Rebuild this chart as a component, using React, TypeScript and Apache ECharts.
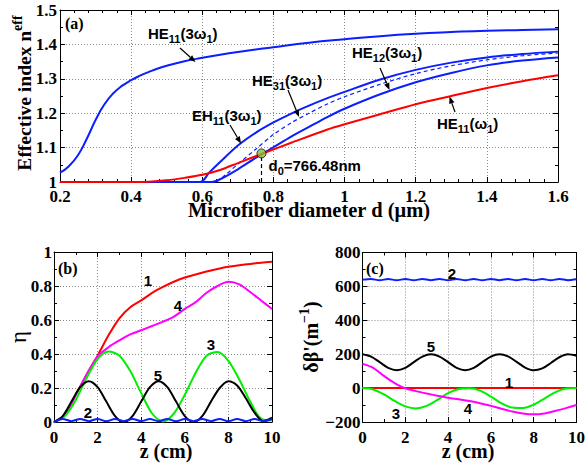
import React, { useEffect, useRef } from "react";
import * as echarts from "echarts";

// ---------------- Panel (a): effective index vs microfiber diameter ----------------
const dHE11_3w = [0.2, 0.225, 0.25, 0.275, 0.3, 0.325, 0.35, 0.375, 0.4, 0.425, 0.45, 0.475, 0.5, 0.55, 0.6, 0.65, 0.7, 0.75, 0.8, 0.9, 1.0, 1.1, 1.2, 1.3, 1.4, 1.5, 1.6];
const nHE11_3w = [1.027, 1.046, 1.077, 1.125, 1.18, 1.226, 1.258, 1.28, 1.296, 1.309, 1.32, 1.33, 1.338, 1.351, 1.361, 1.37, 1.378, 1.385, 1.392, 1.405, 1.415, 1.424, 1.431, 1.436, 1.44, 1.442, 1.444];

const dEH11_3w = [0.2, 0.594, 0.62, 0.65, 0.7, 0.75, 0.8, 0.85, 0.9, 0.95, 1.0, 1.1, 1.2, 1.3, 1.4, 1.5, 1.6];
const nEH11_3w = [1, 1, 1.028, 1.058, 1.106, 1.143, 1.173, 1.199, 1.222, 1.243, 1.262, 1.298, 1.326, 1.347, 1.362, 1.372, 1.379];

const dHE31_3w = [0.2, 0.626, 0.65, 0.7, 0.75, 0.8, 0.85, 0.9, 0.95, 1.0, 1.1, 1.2, 1.3, 1.4, 1.5, 1.6];
const nHE31_3w = [1, 1, 1.008, 1.037, 1.07, 1.101, 1.132, 1.16, 1.188, 1.213, 1.255, 1.29, 1.317, 1.339, 1.353, 1.362];

const dHE12_3w = [0.64, 0.67, 0.7, 0.75, 0.8, 0.85, 0.9, 0.95, 1.0, 1.1, 1.2, 1.3, 1.4, 1.5, 1.6];
const nHE12_3w = [1, 1.025, 1.052, 1.095, 1.138, 1.172, 1.2, 1.226, 1.248, 1.284, 1.315, 1.338, 1.355, 1.367, 1.375];

const dHE11_w = [0.2, 0.4, 0.45, 0.5, 0.55, 0.6, 0.65, 0.7, 0.77, 0.85, 0.95, 1.0, 1.1, 1.2, 1.3, 1.4, 1.5, 1.6];
const nHE11_w = [1, 1, 1.001, 1.005, 1.012, 1.021, 1.035, 1.055, 1.083, 1.114, 1.152, 1.168, 1.197, 1.226, 1.25, 1.273, 1.293, 1.31];

const d0 = 0.76648;
const n0 = 1.083;

// ---------------- Panel (b): conversion efficiency eta vs z ----------------
const zHalf = [0, 0.5, 1, 1.5, 2, 2.5, 3, 3.5, 4, 4.5, 5, 5.5, 6, 6.5, 7, 7.5, 8, 8.5, 9, 9.5, 10];
const zFine = [0, 0.4, 0.8, 1.2, 1.6, 2, 2.4, 2.8, 3.2, 3.6, 4, 4.4, 4.8, 5.2, 5.6, 6, 6.4, 6.8, 7.2, 7.6, 8, 8.4, 8.8, 9.2, 9.6, 10];

const eta1 = [0, 0.04, 0.16, 0.28, 0.39, 0.51, 0.61, 0.675, 0.715, 0.76, 0.795, 0.825, 0.85, 0.868, 0.885, 0.9, 0.913, 0.922, 0.93, 0.937, 0.943];
const eta4 = [0, 0.04, 0.16, 0.28, 0.385, 0.44, 0.48, 0.515, 0.54, 0.565, 0.59, 0.62, 0.665, 0.705, 0.76, 0.8, 0.825, 0.81, 0.765, 0.715, 0.665];
const eta3 = [0, 0.035, 0.13, 0.26, 0.37, 0.415, 0.39, 0.3, 0.17, 0.05, 0.003, 0.05, 0.16, 0.29, 0.39, 0.412, 0.36, 0.25, 0.12, 0.02, 0.01];
const eta5 = [0, 0.035, 0.12, 0.205, 0.24, 0.205, 0.12, 0.035, 0, 0.035, 0.12, 0.205, 0.24, 0.205, 0.12, 0.035, 0, 0.035, 0.12, 0.2, 0.24, 0.215, 0.14, 0.055, 0.005, 0.025];
const eta2 = [0, 0.018, 0.005, 0.018, 0.005, 0.018, 0.004, 0.018, 0.005, 0.018, 0.005, 0.017, 0.005, 0.018, 0.004, 0.018, 0.005, 0.018, 0.005, 0.018, 0.004, 0.018, 0.005, 0.017, 0.005, 0.018];

// ---------------- Panel (c): phase mismatch delta-beta' vs z ----------------
const db1 = [0, 0];
const zEnds = [0, 10];
const db3 = [0, -8, -37, -76, -108, -120, -105, -70, -30, -5, -1, -15, -50, -90, -115, -118, -98, -62, -25, -3, 0];
const db4 = [143, 120, 72, 30, -2, -18, -32, -45, -57, -66, -76, -89, -105, -122, -138, -150, -155, -150, -135, -118, -100];
const db5 = [200, 186, 153, 119, 105, 119, 153, 186, 200, 186, 153, 119, 105, 119, 153, 186, 200, 187, 155, 121, 105, 116, 148, 182, 199, 190];
const db2 = [640, 644, 636, 644, 636, 644, 636, 644, 637, 644, 636, 644, 636, 644, 636, 644, 637, 644, 636, 644, 636, 644, 636, 644, 637, 642];

const SERIF = "Liberation Serif";
const SANS = "Liberation Sans";

const pairs = (xs: number[], ys: number[]) => xs.map((x, i) => [x, ys[i]]);

const tickRich = { t: { fontFamily: SERIF, fontWeight: "bold", fontSize: 17, color: "#000", lineHeight: 17 } };

function mkX(gridIndex: number, min: number, max: number, interval: number, minorSplit: number, main: boolean, fmt?: any, margin = 5) {
  return {
    type: "value", gridIndex, min, max, interval, position: main ? "bottom" : "top",
    axisLine: { show: true, onZero: false, lineStyle: { color: "#000", width: 1 } },
    axisTick: { show: true, inside: true, length: 5, lineStyle: { color: "#000" } },
    minorTick: { show: true, splitNumber: minorSplit, length: 3, lineStyle: { color: "#000" } },
    axisLabel: main
      ? { show: true, fontFamily: SERIF, fontWeight: "bold", fontSize: 17, color: "#000", rich: tickRich, formatter: (v: number) => "{t|" + fmt(v) + "}", margin, showMinLabel: true, showMaxLabel: true }
      : { show: false },
    splitLine: main ? { show: true, lineStyle: { color: "#8a8a8a", type: [1, 2], width: 1 } } : { show: false },
  };
}
function mkY(gridIndex: number, min: number, max: number, interval: number, minorSplit: number, main: boolean, fmt?: any, margin = 3) {
  return {
    type: "value", gridIndex, min, max, interval, position: main ? "left" : "right",
    axisLine: { show: true, onZero: false, lineStyle: { color: "#000", width: 1 } },
    axisTick: { show: true, inside: true, length: 5, lineStyle: { color: "#000" } },
    minorTick: { show: true, splitNumber: minorSplit, length: 3, lineStyle: { color: "#000" } },
    axisLabel: main
      ? { show: true, fontFamily: SERIF, fontWeight: "bold", fontSize: 17, color: "#000", rich: tickRich, formatter: (v: number) => "{t|" + fmt(v) + "}", margin, showMinLabel: true, showMaxLabel: true }
      : { show: false },
    splitLine: main ? { show: true, lineStyle: { color: "#8a8a8a", type: [1, 2], width: 1 } } : { show: false },
  };
}

const fmt1 = (v: number) => String(Math.round(v * 10) / 10);
const fmtInt = (v: number) => (v < 0 ? "\u2212" + String(-v) : String(v));

function arrow(x1: number, y1: number, x2: number, y2: number) {
  const ang = Math.atan2(y2 - y1, x2 - x1);
  const L = 7, W = 2.8;
  const bx = x2 - L * Math.cos(ang), by = y2 - L * Math.sin(ang);
  const px = -Math.sin(ang) * W, py = Math.cos(ang) * W;
  return [
    { type: "line", shape: { x1, y1, x2: bx, y2: by }, style: { stroke: "#000", lineWidth: 1.2 }, z: 100 },
    { type: "polygon", shape: { points: [[x2, y2], [bx + px, by + py], [bx - px, by - py]] }, style: { fill: "#000" }, z: 100 },
  ];
}

const richMode = {
  m: { fontFamily: SANS, fontWeight: "bold", fontSize: 15, lineHeight: 22, fill: "#000" },
  s: { fontFamily: SANS, fontWeight: "bold", fontSize: 11, lineHeight: 12, verticalAlign: "bottom", fill: "#000" },
};
function modeText(x: number, y: number, text: string) {
  return { type: "text", x, y, z: 100, style: { text, rich: richMode, align: "left", verticalAlign: "middle" } };
}
function numText(x: number, y: number, text: string) {
  return { type: "text", x, y, z: 100, style: { text, fontFamily: SANS, fontWeight: "bold", fontSize: 15, fill: "#000", align: "center", verticalAlign: "middle" } };
}
function plainText(x: number, y: number, text: string, size: number, align = "left", bold = true) {
  return { type: "text", x, y, z: 100, style: { text, fontFamily: SERIF, fontWeight: bold ? "bold" : "normal", fontSize: size, lineHeight: Math.round(size * 0.8), fill: "#000", align, verticalAlign: "middle" } };
}

function lineSeries(name: string, xi: number, data: number[][], color: string, width = 2, type: any = "solid", smooth = 0.3) {
  return {
    name, type: "line", xAxisIndex: xi, yAxisIndex: xi, data, smooth, showSymbol: false, symbol: "none",
    lineStyle: { color, width, type }, itemStyle: { color }, clip: true, silent: true,
  };
}

export default function App() {
  const ref = useRef<HTMLDivElement>(null);
  useEffect(() => {
    document.body.style.margin = "0";
    const chart = echarts.init(ref.current!, null, { renderer: "svg" });
    const option: any = {
      animation: false,
      backgroundColor: "#fff",
      textStyle: { fontFamily: SERIF },
      grid: [
        { left: 60, top: 10, width: 498, height: 172 },
        { left: 54, top: 252, width: 218, height: 170 },
        { left: 362.5, top: 252.5, width: 218.5, height: 169.5 },
      ],
      xAxis: [
        mkX(0, 0.2, 1.6, 0.2, 5, true, fmt1, 6),
        mkX(0, 0.2, 1.6, 0.2, 5, false),
        mkX(1, 0, 10, 2, 2, true, fmtInt, 7),
        mkX(1, 0, 10, 2, 2, false),
        mkX(2, 0, 10, 2, 2, true, fmtInt, 7),
        mkX(2, 0, 10, 2, 2, false),
      ],
      yAxis: [
        mkY(0, 1, 1.5, 0.1, 2, true, fmt1, 3),
        mkY(0, 1, 1.5, 0.1, 2, false),
        mkY(1, 0, 1, 0.2, 2, true, fmt1, 2),
        mkY(1, 0, 1, 0.2, 2, false),
        mkY(2, -200, 800, 200, 2, true, fmtInt, 2),
        mkY(2, -200, 800, 200, 2, false),
      ],
      series: [
        // panel a (axes 0)
        lineSeries("HE11(3w1)", 0, pairs(dHE11_3w, nHE11_3w), "#0a1eff", 2, "solid", 0.5),
        lineSeries("EH11(3w1)", 0, pairs(dEH11_3w, nEH11_3w), "#0a1eff"),
        lineSeries("HE31(3w1)", 0, pairs(dHE31_3w, nHE31_3w), "#0a1eff"),
        lineSeries("HE12(3w1)", 0, pairs(dHE12_3w, nHE12_3w), "#0a1eff", 1.2, [4, 3]),
        lineSeries("HE11(w1)", 0, pairs(dHE11_w, nHE11_w), "#ff0000"),
        lineSeries("d0", 0, [[d0, 1], [d0, n0]], "#000", 1.2, [4, 3]),
        {
          name: "pm", type: "scatter", xAxisIndex: 0, yAxisIndex: 0, data: [[d0, n0]], symbol: "circle", symbolSize: 9,
          itemStyle: { color: "#8dbb3c", borderColor: "#000", borderWidth: 1 }, z: 10, silent: true,
        },
        // panel b (axes 2)
        lineSeries("eta1", 2, pairs(zHalf, eta1), "#ff0000"),
        lineSeries("eta4", 2, pairs(zHalf, eta4), "#ff00ff"),
        lineSeries("eta3", 2, pairs(zHalf, eta3), "#00ee00"),
        lineSeries("eta5", 2, pairs(zFine, eta5), "#000000"),
        lineSeries("eta2", 2, pairs(zFine, eta2), "#0a1eff"),
        // panel c (axes 4)
        lineSeries("db1", 4, pairs(zEnds, db1), "#ff0000"),
        lineSeries("db3", 4, pairs(zHalf, db3), "#00ee00"),
        lineSeries("db4", 4, pairs(zHalf, db4), "#ff00ff"),
        lineSeries("db5", 4, pairs(zFine, db5), "#000000"),
        lineSeries("db2", 4, pairs(zFine, db2), "#0a1eff"),
      ],
      graphic: [
        // panel a texts
        plainText(65, 23, "(a)", 16),
        modeText(148, 33, "{m|HE}{s|11}{m|(3\u03c9}{s|1}{m|)}"),
        ...arrow(180, 48, 195.5, 62),
        modeText(252, 80, "{m|HE}{s|31}{m|(3\u03c9}{s|1}{m|)}"),
        ...arrow(288, 90, 299, 117),
        modeText(192, 115, "{m|EH}{s|11}{m|(3\u03c9}{s|1}{m|)}"),
        ...arrow(230, 125, 241, 143.5),
        modeText(352, 52.5, "{m|HE}{s|12}{m|(3\u03c9}{s|1}{m|)}"),
        ...arrow(380, 68, 389.5, 90),
        modeText(437, 123, "{m|HE}{s|11}{m|(\u03c9}{s|1}{m|)}"),
        ...arrow(455, 112, 449.5, 96.5),
        modeText(268.5, 165, "{m|d}{s|0}{m|=766.48nm}"),
        {
          type: "text", x: 24, y: 93, rotation: Math.PI / 2, z: 100,
          style: {
            text: "{m|Effective index n}{p|eff}", align: "center", verticalAlign: "middle",
            rich: {
              m: { fontFamily: SERIF, fontWeight: "bold", fontSize: 19.5, lineHeight: 28, fill: "#000" },
              p: { fontFamily: SERIF, fontWeight: "bold", fontSize: 14, lineHeight: 14, verticalAlign: "top", fill: "#000" },
            },
          },
        },
        plainText(309, 210, "Microfiber diameter d (\u03bcm)", 20.5, "center"),
        // panel b texts
        plainText(58, 268, "(b)", 16),
        numText(148, 280, "1"),
        numText(178, 305, "4"),
        numText(211, 344, "3"),
        numText(158, 375, "5"),
        numText(88, 412, "2"),
        { type: "text", x: 18, y: 337, rotation: Math.PI / 2, z: 100, style: { text: "\u03b7", fontFamily: SERIF, fontSize: 23, fill: "#000", align: "center", verticalAlign: "middle" } },
        plainText(166, 451, "z (cm)", 20, "center"),
        // panel c texts
        plainText(366, 268, "(c)", 16),
        numText(452, 273, "2"),
        numText(431, 346, "5"),
        numText(509, 382, "1"),
        numText(396, 413, "3"),
        numText(468, 408, "4"),
        {
          type: "text", x: 311, y: 337, rotation: Math.PI / 2, z: 100,
          style: {
            text: "{m|\u03b4\u03b2'(m}{p|\u22121}{m|)}", align: "center", verticalAlign: "middle",
            rich: {
              m: { fontFamily: SERIF, fontWeight: "bold", fontSize: 20, lineHeight: 28, fill: "#000" },
              p: { fontFamily: SERIF, fontWeight: "bold", fontSize: 14, lineHeight: 14, verticalAlign: "top", fill: "#000" },
            },
          },
        },
        plainText(468, 451, "z (cm)", 20, "center"),
      ],
    };
    chart.setOption(option);
    return () => chart.dispose();
  }, []);
  return <div ref={ref} style={{ position: "fixed", left: 0, top: 0, width: 588, height: 468, background: "#fff" }} />;
}
